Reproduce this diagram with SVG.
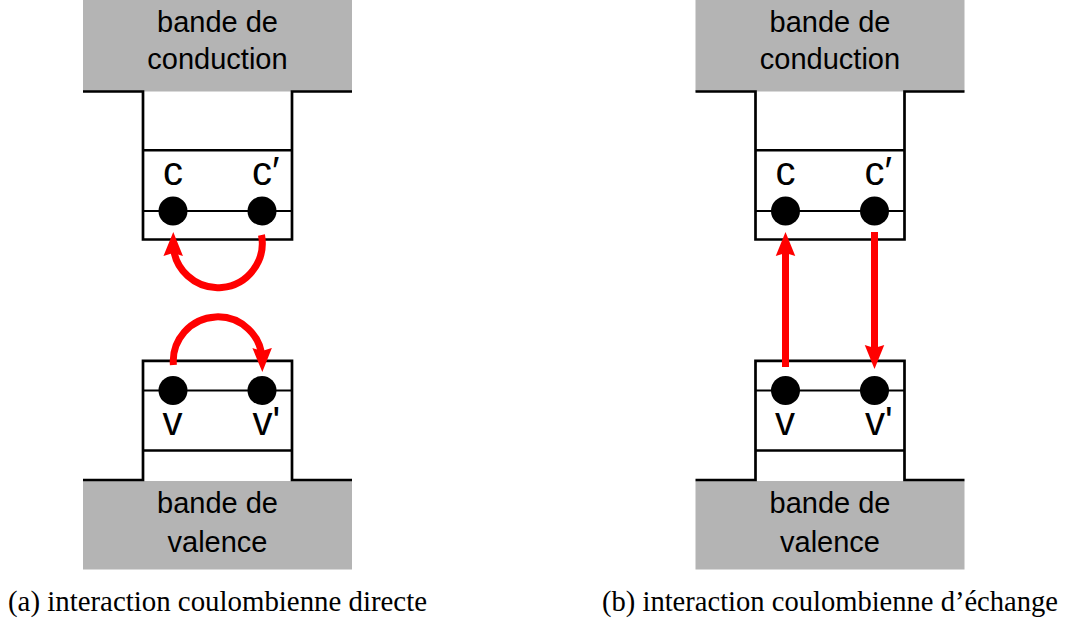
<svg xmlns="http://www.w3.org/2000/svg" width="1065" height="626" viewBox="0 0 1065 626">
<style>
.band{fill:#b4b4b4}
.wall{fill:none;stroke:#000;stroke-width:2.7}
.lvl{stroke:#000;stroke-width:2.4}
.dl{stroke:#000;stroke-width:2}
.dot{fill:#000}
.lbl{font-family:"Liberation Sans",Arial,Helvetica,sans-serif;font-size:40px;fill:#000}
.bt{font-family:"Liberation Sans",Arial,Helvetica,sans-serif;font-size:29px;text-anchor:middle;fill:#000}
.cap{font-family:"Liberation Serif","Times New Roman",serif;font-size:28.5px;fill:#000}
.arr{fill:none;stroke:#ff0000;stroke-width:7}
</style>
<defs>
<marker id="ah" markerUnits="userSpaceOnUse" viewBox="0 -12 26 24" markerWidth="26" markerHeight="24" refX="13" refY="0" orient="auto">
<path d="M0,-9.75 L24,0 L0,9.75 L3,0 Z" fill="#ff0000"/>
</marker>
</defs>
<rect width="1065" height="626" fill="#fff"/>

<g id="panel-a">
<g id="a-conduction">
<rect class="band" x="83" y="0" width="269" height="91.5"/>
<text class="bt" x="217.5" y="32">bande de</text>
<text class="bt" x="217.5" y="69">conduction</text>
</g>
<g id="a-upper-well">
<path class="wall" d="M83,91.5 H143 V239.5 H292 V91.5 H352"/>
<line class="lvl" x1="143" y1="150.3" x2="292" y2="150.3"/>
<line class="dl" x1="143" y1="211" x2="292" y2="211"/>
</g>
<g id="a-c">
<circle class="dot" cx="173" cy="211" r="14.5"/>
<text class="lbl" x="173" y="185" text-anchor="middle">c</text>
</g>
<g id="a-cp">
<circle class="dot" cx="262" cy="211" r="14.5"/>
<text class="lbl" x="252" y="185">c′</text>
</g>
<g id="a-valence">
<rect class="band" x="83" y="481" width="269" height="88.5"/>
<text class="bt" x="217.5" y="513">bande de</text>
<text class="bt" x="217.5" y="552">valence</text>
</g>
<g id="a-lower-well">
<path class="wall" d="M83,480 H143 V360.8 H292 V480 H352"/>
<line class="lvl" x1="143" y1="450.5" x2="292" y2="450.5"/>
<line class="dl" x1="143" y1="390.5" x2="292" y2="390.5"/>
</g>
<g id="a-v">
<circle class="dot" cx="173" cy="390.5" r="14.5"/>
<text class="lbl" x="172.5" y="435" text-anchor="middle">v</text>
</g>
<g id="a-vp">
<circle class="dot" cx="262" cy="390.5" r="14.5"/>
<text class="lbl" x="252.5" y="435">v'</text>
</g>
</g>

<g id="panel-b" transform="translate(612.5,0)">
<g id="b-conduction">
<rect class="band" x="83" y="0" width="269" height="91.5"/>
<text class="bt" x="217.5" y="32">bande de</text>
<text class="bt" x="217.5" y="69">conduction</text>
</g>
<g id="b-upper-well">
<path class="wall" d="M83,91.5 H143 V239.5 H292 V91.5 H352"/>
<line class="lvl" x1="143" y1="150.3" x2="292" y2="150.3"/>
<line class="dl" x1="143" y1="211" x2="292" y2="211"/>
</g>
<g id="b-c">
<circle class="dot" cx="173" cy="211" r="14.5"/>
<text class="lbl" x="173" y="185" text-anchor="middle">c</text>
</g>
<g id="b-cp">
<circle class="dot" cx="262" cy="211" r="14.5"/>
<text class="lbl" x="252" y="185">c′</text>
</g>
<g id="b-valence">
<rect class="band" x="83" y="481" width="269" height="88.5"/>
<text class="bt" x="217.5" y="513">bande de</text>
<text class="bt" x="217.5" y="552">valence</text>
</g>
<g id="b-lower-well">
<path class="wall" d="M83,480 H143 V360.8 H292 V480 H352"/>
<line class="lvl" x1="143" y1="450.5" x2="292" y2="450.5"/>
<line class="dl" x1="143" y1="390.5" x2="292" y2="390.5"/>
</g>
<g id="b-v">
<circle class="dot" cx="173" cy="390.5" r="14.5"/>
<text class="lbl" x="172.5" y="435" text-anchor="middle">v</text>
</g>
<g id="b-vp">
<circle class="dot" cx="262" cy="390.5" r="14.5"/>
<text class="lbl" x="252.5" y="435">v'</text>
</g>
</g>

<g id="connectors">
<path class="arr" d="M261.5,235 A44.5,44.5 0 1 1 173.25,243" marker-end="url(#ah)"/>
<path class="arr" d="M173.4,365 A44.5,44.5 0 1 1 262.25,361" marker-end="url(#ah)"/>
<path class="arr" d="M785.5,367 V243" marker-end="url(#ah)"/>
<path class="arr" d="M874.5,232 V358" marker-end="url(#ah)"/>
</g>

<g id="captions">
<text class="cap" x="8" y="611" textLength="419" lengthAdjust="spacingAndGlyphs">(a) interaction coulombienne directe</text>
<text class="cap" x="602" y="611" textLength="456" lengthAdjust="spacingAndGlyphs">(b) interaction coulombienne d’échange</text>
</g>
</svg>
